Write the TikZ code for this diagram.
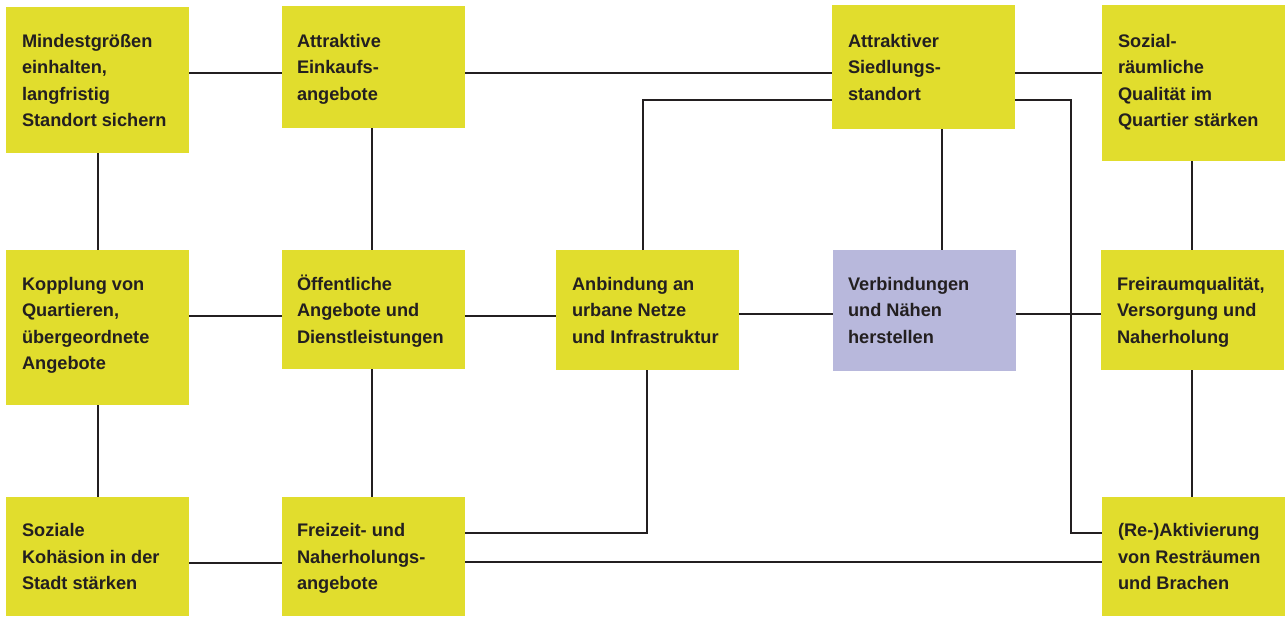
\documentclass[tikz,border=0pt]{standalone}
\usepackage{fontspec}
\setmainfont{Liberation Sans}
\definecolor{yel}{HTML}{E1DD2D}
\definecolor{lav}{HTML}{B8B8DC}
\definecolor{ink}{HTML}{231F20}
\begin{document}
\begin{tikzpicture}[x=1pt,y=-1pt,
  box/.style={fill=yel,draw=none,inner sep=0pt,outer sep=0pt,anchor=north west,minimum width=183pt},
  lbl/.style={anchor=north west,inner sep=0pt,outer sep=0pt,align=left,text=ink,
    font=\fontsize{18.2}{26.5}\selectfont\bfseries},
  link/.style={draw=ink,line width=2.8pt}]
\useasboundingbox (0,0) rectangle (1285,616);
% boxes
\node[box,minimum height=146pt] (A1) at (6,7) {};
\node[box,minimum height=122pt] (A2) at (282,6) {};
\node[box,minimum height=124pt] (A3) at (832,5) {};
\node[box,minimum height=156pt] (A4) at (1102,5) {};
\node[box,minimum height=155pt] (B1) at (6,250) {};
\node[box,minimum height=119pt] (B2) at (282,250) {};
\node[box,minimum height=120pt] (B3) at (556,250) {};
\node[box,minimum height=121pt,fill=lav] (B4) at (833,250) {};
\node[box,minimum height=120pt] (B5) at (1101,250) {};
\node[box,minimum height=119pt] (C1) at (6,497) {};
\node[box,minimum height=119pt] (C2) at (282,497) {};
\node[box,minimum height=119pt] (C5) at (1102,497) {};
% labels
\node[lbl] (tA1) at ([xshift=16pt,yshift=-21.5pt]A1.north west) {\strut Mindestgrößen\\einhalten,\\langfristig\\Standort sichern};
\node[lbl] (tA2) at ([xshift=15pt,yshift=-22.5pt]A2.north west) {\strut Attraktive\\Einkaufs-\\angebote};
\node[lbl] (tA3) at ([xshift=16pt,yshift=-23.5pt]A3.north west) {\strut Attraktiver\\Siedlungs-\\standort};
\node[lbl] (tA4) at ([xshift=16pt,yshift=-23.5pt]A4.north west) {\strut Sozial-\\räumliche\\Qualität im\\Quartier stärken};
\node[lbl] (tB1) at ([xshift=16pt,yshift=-21.5pt]B1.north west) {\strut Kopplung von\\Quartieren,\\übergeordnete\\Angebote};
\node[lbl] (tB2) at ([xshift=15pt,yshift=-21.5pt]B2.north west) {\strut Öffentliche\\Angebote und\\Dienstleistungen};
\node[lbl] (tB3) at ([xshift=16pt,yshift=-21.5pt]B3.north west) {\strut Anbindung an\\urbane Netze\\und Infrastruktur};
\node[lbl] (tB4) at ([xshift=15pt,yshift=-21.5pt]B4.north west) {\strut Verbindungen\\und Nähen\\herstellen};
\node[lbl] (tB5) at ([xshift=16pt,yshift=-21.5pt]B5.north west) {\strut Freiraumqualität,\\Versorgung und\\Naherholung};
\node[lbl] (tC1) at ([xshift=16pt,yshift=-21pt]C1.north west) {\strut Soziale\\Kohäsion in der\\Stadt stärken};
\node[lbl] (tC2) at ([xshift=15pt,yshift=-21pt]C2.north west) {\strut Freizeit- und\\Naherholungs-\\angebote};
\node[lbl] (tC5) at ([xshift=16pt,yshift=-21pt]C5.north west) {\strut (Re-)Aktivierung\\von Resträumen\\und Brachen};
% connectors
\draw[link] (A1.east |- 0,73) -- (A2.west |- 0,73);
\draw[link] (A2.east |- 0,73) -- (A3.west |- 0,73);
\draw[link] (A3.east |- 0,73) -- (A4.west |- 0,73);
\draw[link] (A1.south -| 98,0) -- (B1.north -| 98,0);
\draw[link] (B1.south -| 98,0) -- (C1.north -| 98,0);
\draw[link] (A2.south -| 372,0) -- (B2.north -| 372,0);
\draw[link] (B2.south -| 372,0) -- (C2.north -| 372,0);
\draw[link] (A3.south -| 942,0) -- (B4.north -| 942,0);
\draw[link] (A4.south -| 1192,0) -- (B5.north -| 1192,0);
\draw[link] (B5.south -| 1192,0) -- (C5.north -| 1192,0);
\draw[link] (B1.east |- 0,316) -- (B2.west |- 0,316);
\draw[link] (B2.east |- 0,316) -- (B3.west |- 0,316);
\draw[link] (B3.east |- 0,314) -- (B4.west |- 0,314);
\draw[link] (B4.east |- 0,314) -- (B5.west |- 0,314);
\draw[link] (C1.east |- 0,563) -- (C2.west |- 0,563);
\draw[link] (C2.east |- 0,562) -- (C5.west |- 0,562);
\draw[link] (C2.east |- 0,533) -| (B3.south -| 647,0);
\draw[link] (B3.north -| 643,0) |- (A3.west |- 0,100);
\draw[link] (A3.east |- 0,100) -| (1071,533) -- (C5.west |- 0,533);
\end{tikzpicture}
\end{document}
